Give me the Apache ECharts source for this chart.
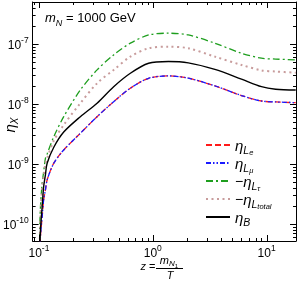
<!DOCTYPE html>
<html><head><meta charset="utf-8">
<script src="https://cdn.jsdelivr.net/npm/echarts@6/dist/echarts.min.js"></script>
<style>html,body{margin:0;padding:0;background:#fff}#c{width:298px;height:281px}</style>
</head><body><div id="c"></div>
<script>
// ---- data ----
const zGrid   = [0.1, 0.1016, 0.1031, 0.1067, 0.110, 0.114, 0.118, 0.135, 0.165, 0.231, 0.324, 0.453, 0.635, 0.919, 1.37, 2.05, 3.51, 6.01, 9.0, 12, 18];
const etaLe   = [1e-12, 2.5e-11, 6.2e-11, 1.32e-10, 2.51e-10, 3.7e-10, 5.41e-10, 1.03e-9, 1.71e-9, 3.25e-9, 6.14e-9, 1.09e-8, 1.83e-8, 2.68e-8, 2.93e-8, 2.69e-8, 2.0e-8, 1.38e-8, 1.12e-8, 1.08e-8, 1.05e-8];
const etaLmu  = [1e-12, 2.5e-11, 6.2e-11, 1.32e-10, 2.51e-10, 3.7e-10, 5.41e-10, 1.03e-9, 1.71e-9, 3.25e-9, 6.14e-9, 1.09e-8, 1.83e-8, 2.68e-8, 2.93e-8, 2.69e-8, 2.0e-8, 1.38e-8, 1.12e-8, 1.08e-8, 1.05e-8];
const etaLtau = [1e-12, 7.9e-11, 1.94e-10, 4.77e-10, 7.4e-10, 1.24e-9, 1.47e-9, 2.85e-9, 6.14e-9, 1.71e-8, 3.69e-8, 6.56e-8, 1.03e-7, 1.41e-7, 1.51e-7, 1.41e-7, 1.03e-7, 7.0e-8, 5.78e-8, 5.6e-8, 5.41e-8];
const etaLtot = [1e-12, 4e-11, 1.32e-10, 4.19e-10, 6.3e-10, 1.03e-9, 1.25e-9, 2.45e-9, 4.47e-9, 1.03e-8, 2.21e-8, 3.69e-8, 6.14e-8, 8.48e-8, 9.0e-8, 8.48e-8, 6.14e-8, 4.47e-8, 3.63e-8, 3.47e-8, 3.32e-8];
const etaB    = [1e-12, 3e-11, 7.9e-11, 1.94e-10, 4.19e-10, 6.6e-10, 1.03e-9, 1.9e-9, 3.4e-9, 6.14e-9, 1.03e-8, 1.94e-8, 3.25e-8, 4.77e-8, 5.1e-8, 4.84e-8, 3.76e-8, 2.59e-8, 1.94e-8, 1.76e-8, 1.71e-8];
const etaObs  = 1.67e-8;
const xMin = 0.088, xMax = 18.1;
const yMin = 5.2e-11, yMax = 5e-7;
const xMajor = [0.1, 1, 10];
const xMinor = [0.09, 0.2, 0.3, 0.4, 0.5, 0.6, 0.7, 0.8, 0.9, 2, 3, 4, 5, 6, 7, 8, 9];
const yMajor = [1e-10, 1e-9, 1e-8, 1e-7];
const yMinor = [6e-11, 7e-11, 8e-11, 9e-11, 2e-10, 3e-10, 4e-10, 5e-10, 6e-10, 7e-10, 8e-10, 9e-10,
                2e-9, 3e-9, 4e-9, 5e-9, 6e-9, 7e-9, 8e-9, 9e-9, 2e-8, 3e-8, 4e-8, 5e-8, 6e-8, 7e-8, 8e-8, 9e-8,
                2e-7, 3e-7, 4e-7];

const FF = 'Liberation Sans';
const pairs = arr => zGrid.map((z, i) => [z, arr[i]]);

const powLabel = v => {
  const l = Math.log10(v);
  const e = Math.round(l);
  if (Math.abs(l - e) > 1e-6) return '';
  return '{b|10}{s|' + e + '}';
};
const labelRich = {
  b: { fontSize: 12, fontFamily: FF, color: '#000', lineHeight: 16, verticalAlign: 'bottom' },
  s: { fontSize: 8.5, fontFamily: FF, color: '#000', lineHeight: 8, verticalAlign: 'top' }
};

const legRich = {
  g:  { fontSize: 15, fontFamily: FF, fontStyle: 'italic', color: '#000', lineHeight: 12, verticalAlign: 'top' },
  n:  { fontSize: 14, fontFamily: FF, color: '#000', lineHeight: 12, verticalAlign: 'top' },
  s:  { fontSize: 10.5, fontFamily: FF, fontStyle: 'italic', color: '#000', lineHeight: 8, padding: [7, 0, 0, 0], verticalAlign: 'top' },
  ss: { fontSize: 7.5, fontFamily: FF, fontStyle: 'italic', color: '#000', lineHeight: 6, padding: [10, 0, 0, 0], verticalAlign: 'top' }
};
const legText = {
  'Le':   '{g|η}{s|L}{ss|e}',
  'Lmu':  '{g|η}{s|L}{ss|μ}',
  'Ltau': '{n|−}{g|η}{s|L}{ss|τ}',
  'Ltot': '{n|−}{g|η}{s|L}{ss|total}',
  'B':    '{g|η}{s|B}'
};

const lineSeries = (name, arr, color, type, width) => ({
  name, type: 'line', data: pairs(arr), showSymbol: false, symbol: 'none',
  smooth: 0.3, animation: false,
  lineStyle: { color, type, width }, itemStyle: { color },
  xAxisIndex: 0, yAxisIndex: 0
});

const s0 = lineSeries('Le', etaLe, '#ff1a1a', [6, 3], 1.3);
s0.markLine = {
  silent: true, symbol: ['none', 'none'], label: { show: false }, animation: false,
  lineStyle: { color: '#d4d4d4', width: 2, type: [8, 5] },
  data: [{ yAxis: etaObs }]
};

const baseGraphic = [
  { type: 'text', x: 45, y: 18, silent: true,
    style: { text: '{m|m}{n|N}{t| = 1000 GeV}', align: 'left', verticalAlign: 'middle',
      rich: {
        m: { fontSize: 13, fontFamily: FF, fontStyle: 'italic', fill: '#000', lineHeight: 13, verticalAlign: 'top' },
        n: { fontSize: 9, fontFamily: FF, fontStyle: 'italic', fill: '#000', lineHeight: 8, padding: [7, 0, 0, 0], verticalAlign: 'top' },
        t: { fontSize: 13, fontFamily: FF, fill: '#000', lineHeight: 13, verticalAlign: 'top' }
      } } },
  { type: 'text', x: 9, y: 125, rotation: Math.PI / 2, silent: true,
    style: { text: '{g|η}{s|X}', align: 'center', verticalAlign: 'middle',
      rich: {
        g: { fontSize: 15, fontFamily: FF, fontStyle: 'italic', fill: '#000', lineHeight: 12, verticalAlign: 'top' },
        s: { fontSize: 10, fontFamily: FF, fontStyle: 'italic', fill: '#000', lineHeight: 8, padding: [7, 0, 0, 0], verticalAlign: 'top' }
      } } },
  { type: 'text', x: 148, y: 267, silent: true,
    style: { text: '{i|z}{t| =}', align: 'center', verticalAlign: 'middle',
      rich: {
        i: { fontSize: 11, fontFamily: FF, fontStyle: 'italic', fill: '#000', lineHeight: 12 },
        t: { fontSize: 11, fontFamily: FF, fill: '#000', lineHeight: 12 }
      } } },
  { type: 'text', x: 169, y: 260, silent: true,
    style: { text: '{m|m}{s|N}{ss|1}', align: 'center', verticalAlign: 'middle',
      rich: {
        m: { fontSize: 11, fontFamily: FF, fontStyle: 'italic', fill: '#000', lineHeight: 10, verticalAlign: 'top' },
        s: { fontSize: 8, fontFamily: FF, fontStyle: 'italic', fill: '#000', lineHeight: 7, padding: [5, 0, 0, 0], verticalAlign: 'top' },
        ss: { fontSize: 6, fontFamily: FF, fill: '#000', lineHeight: 5, padding: [8, 0, 0, 0], verticalAlign: 'top' }
      } } },
  { type: 'line', silent: true, shape: { x1: 156, y1: 268.5, x2: 183, y2: 268.5 }, style: { stroke: '#000', lineWidth: 1 } },
  { type: 'text', x: 170, y: 275.5, silent: true,
    style: { text: 'T', fontSize: 11, fontFamily: FF, fontStyle: 'italic', fill: '#000', align: 'center', verticalAlign: 'middle' } }
];

const chart = echarts.init(document.getElementById('c'), null, { renderer: 'canvas' });
chart.setOption({
  animation: false,
  backgroundColor: '#fff',
  grid: { left: 32, right: 2, top: 2, bottom: 40, containLabel: false, show: false },
  xAxis: [
    { type: 'log', logBase: 10, min: xMin, max: xMax, position: 'bottom',
      axisLine: { show: true, onZero: false, lineStyle: { color: '#000', width: 1 } },
      axisTick: { show: false }, splitLine: { show: false }, minorTick: { show: false },
      axisLabel: { formatter: powLabel, rich: labelRich, margin: 3, showMinLabel: false, showMaxLabel: false } },
    { type: 'log', logBase: 10, min: xMin, max: xMax, position: 'top',
      axisLine: { show: true, onZero: false, lineStyle: { color: '#000', width: 1 } },
      axisTick: { show: false }, splitLine: { show: false }, axisLabel: { show: false } }
  ],
  yAxis: [
    { type: 'log', logBase: 10, min: yMin, max: yMax, position: 'left',
      axisLine: { show: true, onZero: false, lineStyle: { color: '#000', width: 1 } },
      axisTick: { show: false }, splitLine: { show: false }, minorTick: { show: false },
      axisLabel: { formatter: powLabel, rich: labelRich, margin: 4, showMinLabel: false, showMaxLabel: false } },
    { type: 'log', logBase: 10, min: yMin, max: yMax, position: 'right',
      axisLine: { show: true, onZero: false, lineStyle: { color: '#000', width: 1 } },
      axisTick: { show: false }, splitLine: { show: false }, axisLabel: { show: false } }
  ],
  legend: {
    orient: 'vertical', left: 205, top: 139, padding: 0, itemWidth: 24, itemHeight: 10, itemGap: 0,
    data: ['Le', 'Lmu', 'Ltau', 'Ltot', 'B'],
    formatter: n => legText[n],
    itemStyle: { opacity: 0 },
    textStyle: { rich: legRich },
    selectedMode: false
  },
  series: [
    s0,
    lineSeries('Lmu', etaLmu, '#1a1aff', [5, 2, 1.5, 2, 1.5, 2], 1.3),
    lineSeries('Ltau', etaLtau, '#1e9e1e', [7, 3, 2, 3], 1.3),
    lineSeries('Ltot', etaLtot, '#c89c9c', [2, 3.5], 2),
    lineSeries('B', etaB, '#000000', 'solid', 1.4)
  ],
  graphic: baseGraphic
});

// inward tick marks on all four sides, placed through the chart's own axis scales
const px = (x, y) => chart.convertToPixel({ xAxisIndex: 0, yAxisIndex: 0 }, [x, y]);
const bl = px(xMin, yMin), tr = px(xMax, yMax);
const L = bl[0], B = bl[1], R = tr[0], T = tr[1];
const tickEls = [];
const st = { stroke: '#000', lineWidth: 1 };
const xTicks = (vals, len) => vals.forEach(v => {
  const x = Math.round(px(v, yMin)[0]) + 0.5;
  tickEls.push({ type: 'line', silent: true, z: 10, shape: { x1: x, y1: B, x2: x, y2: B - len }, style: st });
  tickEls.push({ type: 'line', silent: true, z: 10, shape: { x1: x, y1: T, x2: x, y2: T + len }, style: st });
});
const yTicks = (vals, len) => vals.forEach(v => {
  const y = Math.round(px(xMin, v)[1]) + 0.5;
  tickEls.push({ type: 'line', silent: true, z: 10, shape: { x1: L, y1: y, x2: L + len, y2: y }, style: st });
  tickEls.push({ type: 'line', silent: true, z: 10, shape: { x1: R, y1: y, x2: R - len, y2: y }, style: st });
});
xTicks(xMajor, 6); xTicks(xMinor, 3); yTicks(yMajor, 6); yTicks(yMinor, 3);
chart.setOption({ graphic: baseGraphic.concat(tickEls) });
</script>
</body></html>
